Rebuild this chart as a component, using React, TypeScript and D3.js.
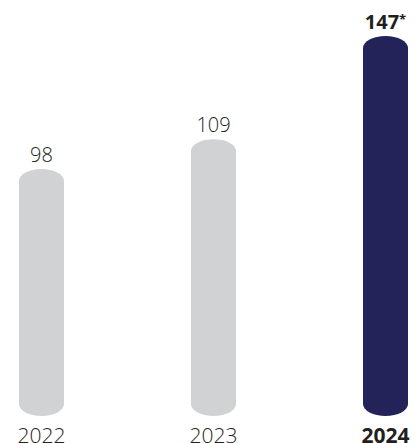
import React from "react";
import * as d3 from "d3";

const years = ["2022", "2023", "2024"];
const values = [98, 109, 147];
const valueLabels = ["98", "109", "147"];
const valueNotes = ["", "", "*"];
const highlight = [false, false, true];

const W = 417;
const H = 443;

export default function App() {
  const x = d3.scalePoint<string>().domain(years).range([41.5, 385.5]);
  const y = d3.scaleLinear().domain([7, 147]).range([416, 36]);
  const bw = 45;
  const font = "'Open Sans', sans-serif";
  return (
    <svg width={W} height={H} style={{ position: "absolute", left: 0, top: 0 }}>
      <rect width={W} height={H} fill="#fff" />
      {years.map((yr, i) => {
        const cx = x(yr)!;
        const top = y(values[i]);
        const bottom = y(7);
        const fill = highlight[i] ? "#232259" : "#d1d2d4";
        return (
          <g key={yr}>
            <rect
              x={cx - bw / 2}
              y={top}
              width={bw}
              height={bottom - top}
              rx={bw / 2}
              ry={12}
              fill={fill}
            />
            <text
              x={cx}
              y={top - 7}
              textAnchor="middle"
              fontFamily={font}
              fontSize={20}
              fontWeight={highlight[i] ? 700 : 300}
              fill="#231f20"
            >
              {valueLabels[i]}
              {valueNotes[i] && (
                <tspan fontSize={13} dy={-5}>
                  {valueNotes[i]}
                </tspan>
              )}
            </text>
            <text
              x={cx}
              y={443}
              textAnchor="middle"
              fontFamily={font}
              fontSize={21}
              fontWeight={highlight[i] ? 700 : 300}
              fill="#231f20"
            >
              {yr}
            </text>
          </g>
        );
      })}
    </svg>
  );
}
